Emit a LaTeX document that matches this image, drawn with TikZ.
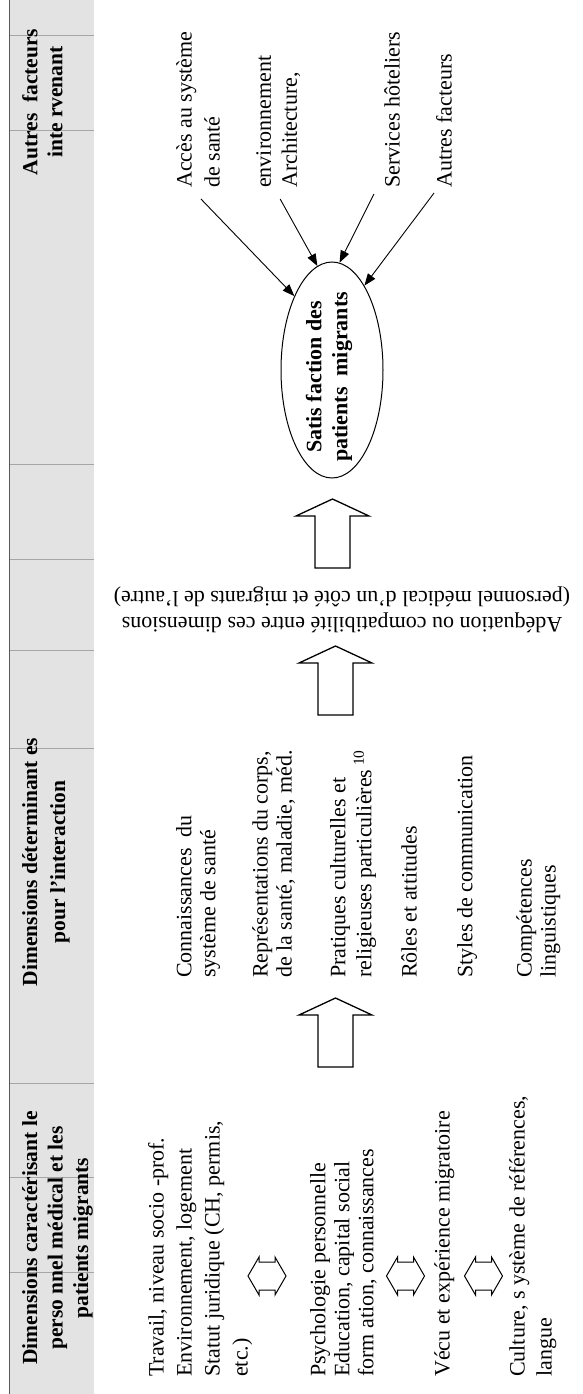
\documentclass[tikz,border=0pt]{standalone}
\usepackage{fontspec}
\setmainfont{Liberation Serif}
\usetikzlibrary{shapes.geometric,arrows.meta}
\begin{document}
\begin{tikzpicture}[x=1pt,y=-1pt,
  hdr/.style={rotate=90,anchor=north,inner sep=0pt,align=center,font=\fontsize{21.5}{25.5}\selectfont\bfseries},
  body/.style={rotate=90,anchor=north west,inner sep=0pt,align=left,font=\fontsize{22}{24}\selectfont},
  bodyw/.style={body,font=\fontsize{22}{28}\selectfont},
  blk/.style={draw=black,line width=1.3pt,fill=white,line join=miter},
  arr/.style={draw,line width=0.9pt,-{Triangle[length=12pt,width=9pt]}},
  gridline/.style={draw=black!35,line width=0.6pt},
  uparr/.pic={\draw[blk] (-17.5,0) -- (-17.5,-52) -- (-36.5,-52) -- (0,-69) -- (36.5,-52) -- (17.5,-52) -- (17.5,0) -- cycle;},
  dblarr/.pic={\draw[blk,line width=1pt] (-19,0) -- (-8,-19) -- (-8,-14) -- (8,-14) -- (8,-19) -- (19,0) -- (8,19) -- (8,14) -- (-8,14) -- (-8,19) -- cycle;}
]
\useasboundingbox (0,0) rectangle (583,1394);
% header band
\fill[black!11] (10,0) rectangle (94,1394);
\foreach \yy in {35,130,464,559,650,748,1083,1177,1272}
  \draw[gridline] (10,\yy) -- (94,\yy);
\draw[line width=1.2pt,black!65] (9.5,0) -- (9.5,1394);
\node[hdr] (h1) at (22,1238) {Dimensions caractérisant le\\perso nnel médical et les\\patients migrants};
\node[hdr,font=\fontsize{21.5}{28}\selectfont\bfseries] (h2) at (22,862) {Dimensions déterminant es\\pour l’interaction};
\node[hdr,font=\fontsize{21.5}{25}\selectfont\bfseries] (h3) at (22,102) {Autres\ \ facteurs\\inte rvenant};
% column 1
\node[bodyw] (trav) at (148,1377) {Travail, niveau socio -prof.\\Environnement, logement\\Statut juridique (CH, permis,\\etc.)};
\node[body] (psy) at (310,1377) {Psychologie personnelle\\Education, capital social\\form ation, connaissances};
\node[body] (vecu) at (434,1377) {Vécu et expérience migratoire};
\node[body,font=\fontsize{22}{27}\selectfont] (cult) at (509,1377) {Culture, s ystème de références,\\langue};
\pic (d1) at (267,1276) {dblarr};
\pic (d2) at (405.5,1276) {dblarr};
\pic (d3) at (483.5,1276) {dblarr};
% column 2
\node[body] (conn) at (176,978) {Connaissances\ \ du\\système de santé};
\node[body] (rep) at (252,978) {Représentations du corps,\\de la santé, maladie, méd.};
\node[body,font=\fontsize{22}{26}\selectfont] (prat) at (330,978) {Pratiques culturelles et\\religieuses particulières\,\textsuperscript{10}};
\node[body] (roles) at (401,978) {Rôles et attitudes};
\node[body] (styles) at (457,978) {Styles de communication};
\node[body] (comp) at (516,978) {Compétences\\linguistiques};
% block arrows
\pic (a1) at (335.5,1067) {uparr};
\pic (a2) at (335.5,715) {uparr};
\pic (a3) at (332.5,568) {uparr};
% adequation text (upside down)
\node[rotate=180,align=center,inner sep=0pt,font=\fontsize{22}{26}\selectfont] (adeq) at (342,610) {Adéquation ou compatibilité entre ces dimensions\\(personnel médical d’un côté et migrants de l’autre)};
% ellipse
\node[draw,ellipse,line width=1pt,minimum width=102pt,minimum height=216pt,inner sep=0pt] (ell) at (332,370) {};
\node[rotate=90,align=center,inner sep=0pt,font=\fontsize{22}{26}\selectfont\bfseries] (sat) at (329,377) {Satis faction des\\patients\ \ migrants};
% other factors
\node[bodyw] (acces) at (176,188) {Accès au système\\de santé};
\node[body,font=\fontsize{22}{26}\selectfont] (archi) at (256,188) {environnement\\Architecture,};
\node[body] (serv) at (384,188) {Services hôteliers};
\node[body] (autres) at (436,188) {Autres facteurs};
\draw[arr] ([shift={(3,11)}]acces.west) -- (ell.117);
\draw[arr] ([shift={(2,11)}]archi.west) -- (ell.98);
\draw[arr] ([shift={(-18,6)}]serv.west) -- (ell.86);
\draw[arr] ([shift={(-10,5)}]autres.west) -- (ell.69);
\end{tikzpicture}
\end{document}
